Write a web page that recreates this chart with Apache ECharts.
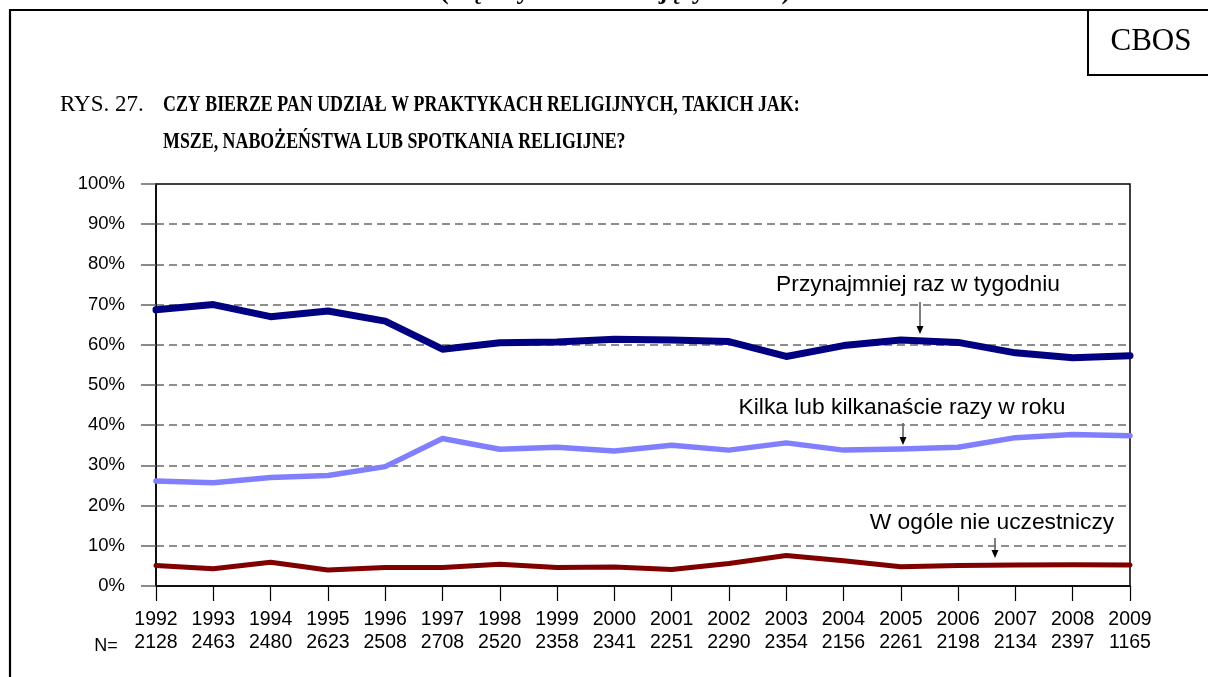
<!DOCTYPE html>
<html>
<head>
<meta charset="utf-8">
<script src="https://cdn.jsdelivr.net/npm/echarts@6/dist/echarts.min.js"></script>
<style>
  html, body { margin: 0; padding: 0; background: #fff; }
  #chart { width: 1208px; height: 677px; }
</style>
</head>
<body>
<div id="chart"></div>
<script>
// ---- data ----
const years = ['1992','1993','1994','1995','1996','1997','1998','1999','2000','2001','2002','2003','2004','2005','2006','2007','2008','2009'];
const sampleN = ['2128','2463','2480','2623','2508','2708','2520','2358','2341','2251','2290','2354','2156','2261','2198','2134','2397','1165'];
const weekly = [68.7, 70.0, 67.0, 68.4, 65.9, 58.9, 60.5, 60.7, 61.4, 61.2, 60.8, 57.1, 59.8, 61.2, 60.6, 58.0, 56.8, 57.3];
const fewTimesYear = [26.1, 25.7, 27.0, 27.5, 29.7, 36.7, 34.0, 34.5, 33.6, 35.0, 33.8, 35.6, 33.8, 34.1, 34.5, 36.9, 37.7, 37.4];
const never = [5.1, 4.3, 5.9, 4.0, 4.6, 4.6, 5.4, 4.6, 4.7, 4.1, 5.6, 7.6, 6.3, 4.8, 5.1, 5.2, 5.3, 5.2];
const seriesNames = ['Przynajmniej raz w tygodniu', 'Kilka lub kilkanaście razy w roku', 'W ogóle nie uczestniczy'];
const yTicks = [0, 10, 20, 30, 40, 50, 60, 70, 80, 90, 100];

const SANS = '"Liberation Sans", Arial, sans-serif';
const SERIF = '"Liberation Serif", "Times New Roman", serif';

const chart = echarts.init(document.getElementById('chart'), null, { renderer: 'canvas' });

function arrow(x, y1, y2) {
  return {
    type: 'group',
    children: [
      { type: 'line', shape: { x1: x, y1: y1, x2: x, y2: y2 - 5 }, style: { stroke: '#000', lineWidth: 1 } },
      { type: 'polygon', shape: { points: [[x - 3.5, y2 - 8], [x + 3.5, y2 - 8], [x, y2]] }, style: { fill: '#000' } }
    ]
  };
}

const option = {
  backgroundColor: '#fff',
  animation: false,
  grid: {
    left: 156, right: 78, top: 184, bottom: 91,
    show: true, borderColor: '#000', borderWidth: 1.5, backgroundColor: 'transparent'
  },
  xAxis: {
    type: 'category',
    data: years,
    boundaryGap: false,
    axisLine: { show: true, lineStyle: { color: '#000', width: 1.5 } },
    axisTick: { show: true, length: 15, lineStyle: { color: '#000', width: 1.2 } },
    axisLabel: {
      interval: 0,
      margin: 22,
      color: '#000',
      fontFamily: SANS,
      fontSize: 19.5,
      lineHeight: 23,
      formatter: function (v, i) { return v + '\n' + sampleN[i]; }
    },
    splitLine: { show: false }
  },
  yAxis: {
    type: 'value',
    min: yTicks[0],
    max: yTicks[yTicks.length - 1],
    interval: 10,
    axisLine: { show: true, lineStyle: { color: '#000', width: 1.5 } },
    axisTick: { show: true, length: 15, lineStyle: { color: '#666', width: 1.5 } },
    axisLabel: { margin: 31, color: '#000', fontFamily: SANS, fontSize: 18.5, formatter: '{value}%' },
    splitLine: { show: true, showMinLine: false, showMaxLine: false, lineStyle: { color: '#6a6a6a', width: 1.5, type: [8, 5] } }
  },
  series: [
    { name: seriesNames[0], type: 'line', data: weekly, symbol: 'none', z: 4,
      lineStyle: { color: '#000080', width: 7, cap: 'round', join: 'round' } },
    { name: seriesNames[1], type: 'line', data: fewTimesYear, symbol: 'none', z: 3,
      lineStyle: { color: '#8080FF', width: 5.5, cap: 'round', join: 'round' } },
    { name: seriesNames[2], type: 'line', data: never, symbol: 'none', z: 3,
      lineStyle: { color: '#800000', width: 5, cap: 'round', join: 'round' } }
  ],
  graphic: [
    // outer frame
    { type: 'line', shape: { x1: 10, y1: 10, x2: 1208, y2: 10 }, style: { stroke: '#000', lineWidth: 2.2 } },
    { type: 'line', shape: { x1: 10, y1: 9, x2: 10, y2: 677 }, style: { stroke: '#000', lineWidth: 2.2 } },
    // cut-off heading above the frame
    { type: 'text', x: 615, y: 5, style: { text: '(mężczyźni mieszkający na wsi)', font: 'bold 26px ' + SERIF, fill: '#000', align: 'center', verticalAlign: 'bottom' } },
    // CBOS box
    { type: 'rect', shape: { x: 1088, y: 10, width: 140, height: 65 }, style: { fill: 'transparent', stroke: '#000', lineWidth: 2 } },
    { type: 'text', x: 1151, y: 42, style: { text: 'CBOS', font: '31px ' + SERIF, fill: '#000', align: 'center', verticalAlign: 'middle' } },
    // title
    { type: 'text', x: 60, y: 105, style: { text: 'RYS. 27.', font: '23px ' + SERIF, fill: '#000', align: 'left', verticalAlign: 'middle' } },
    { type: 'text', x: 163, y: 105, style: { text: 'CZY BIERZE PAN UDZIAŁ W PRAKTYKACH RELIGIJNYCH, TAKICH JAK:', font: 'bold 24px ' + SERIF, fill: '#000', align: 'left', verticalAlign: 'middle' }, scaleX: 0.745 },
    { type: 'text', x: 163, y: 142, style: { text: 'MSZE, NABOŻEŃSTWA LUB SPOTKANIA RELIGIJNE?', font: 'bold 24px ' + SERIF, fill: '#000', align: 'left', verticalAlign: 'middle' }, scaleX: 0.745 },
    // N= label
    { type: 'text', x: 106, y: 646, style: { text: 'N=', font: '18px ' + SANS, fill: '#000', align: 'center', verticalAlign: 'middle' } },
    // annotations
    { type: 'text', x: 918, y: 285, style: { text: seriesNames[0], font: '22.8px ' + SANS, fill: '#000', align: 'center', verticalAlign: 'middle' } },
    arrow(920, 302, 334),
    { type: 'text', x: 902, y: 408, style: { text: seriesNames[1], font: '22.8px ' + SANS, fill: '#000', align: 'center', verticalAlign: 'middle' } },
    arrow(903, 423, 445),
    { type: 'text', x: 992, y: 523, style: { text: seriesNames[2], font: '22.8px ' + SANS, fill: '#000', align: 'center', verticalAlign: 'middle' } },
    arrow(995, 538, 558)
  ]
};

chart.setOption(option);
</script>
</body>
</html>
